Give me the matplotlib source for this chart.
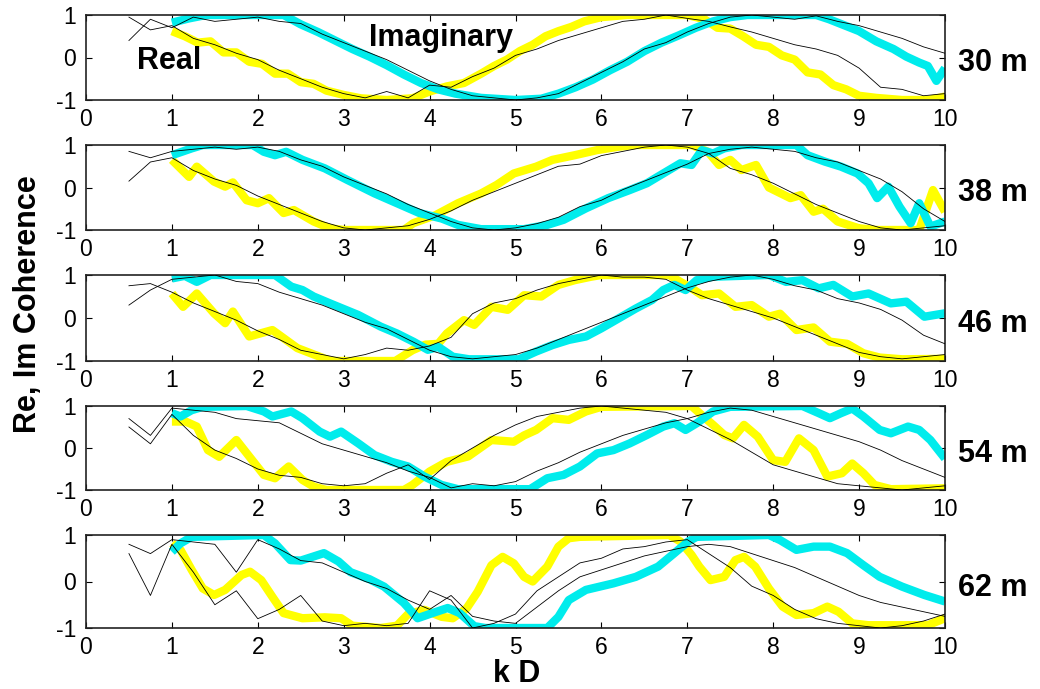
import numpy as np
import matplotlib
matplotlib.use('Agg')
import matplotlib.pyplot as plt

plt.rcParams['font.family'] = ['Liberation Sans', 'DejaVu Sans']
plt.rcParams['axes.unicode_minus'] = False

depths = ['30 m', '38 m', '46 m', '54 m', '62 m']

# thick model curves (real = yellow, imaginary = cyan)
re30_x = [1.0, 1.15, 1.3, 1.45, 1.6, 1.75, 1.9, 2.05, 2.2, 2.35, 2.5, 2.65, 2.8, 3.0, 3.2, 3.5, 3.8, 4.0, 4.2, 4.4,
          4.6, 4.75, 4.9, 5.05, 5.2, 5.35, 5.5, 5.65, 5.8, 6.0, 6.3, 7.0, 7.2, 7.35, 7.5, 7.65, 7.8, 7.95, 8.1, 8.25,
          8.4, 8.55, 8.7, 8.85, 9.0, 9.2, 9.5, 9.8, 10.0]
re30_y = [0.62, 0.5, 0.35, 0.38, 0.12, 0.12, -0.1, -0.15, -0.38, -0.38, -0.58, -0.62, -0.78, -0.88, -0.96, -1.0, -0.96, -0.8, -0.68, -0.6,
          -0.38, -0.2, -0.05, 0.15, 0.3, 0.5, 0.62, 0.72, 0.85, 0.95, 1.0, 1.0, 0.9, 0.7, 0.68, 0.5, 0.3, 0.25, 0.05, -0.05,
          -0.35, -0.4, -0.65, -0.75, -0.9, -0.95, -1.0, -1.0, -0.92]
im30_x = [1.0, 1.2, 1.4, 2.3, 2.5, 2.7, 2.9, 3.1, 3.3, 3.5, 3.7, 3.9, 4.1, 4.3, 4.6, 5.0, 5.3, 5.5, 5.7, 5.9,
          6.1, 6.3, 6.5, 6.7, 6.9, 7.1, 7.3, 7.5, 7.7, 8.5, 8.65, 8.8, 9.0, 9.2, 9.4, 9.55, 9.7, 9.8, 9.9, 10.0]
im30_y = [0.82, 0.92, 1.0, 1.0, 0.78, 0.6, 0.4, 0.2, 0.02, -0.18, -0.4, -0.6, -0.75, -0.85, -0.95, -1.0, -0.97, -0.85, -0.7, -0.52,
          -0.3, -0.1, 0.15, 0.35, 0.52, 0.7, 0.85, 0.95, 1.0, 1.0, 0.9, 0.78, 0.62, 0.38, 0.2, 0.02, -0.12, -0.2, -0.55, -0.25]

re38_x = [1.0, 1.2, 1.29, 1.49, 1.62, 1.71, 1.87, 2.0, 2.13, 2.3, 2.42, 2.65, 2.84, 3.0, 3.7, 3.81, 4.07, 4.33, 4.6, 4.78,
          4.98, 5.24, 5.43, 5.69, 5.95, 6.2, 6.4, 7.05, 7.17, 7.24, 7.37, 7.5, 7.63, 7.8, 7.95, 8.2, 8.32, 8.47, 8.58, 8.75,
          9.0, 9.2, 9.7, 9.86, 10.0]
re38_y = [0.65, 0.25, 0.49, 0.14, 0.02, 0.12, -0.3, -0.37, -0.25, -0.6, -0.53, -0.8, -0.96, -1.0, -1.0, -0.84, -0.65, -0.37, -0.14, 0.06,
          0.33, 0.49, 0.65, 0.76, 0.88, 0.96, 1.0, 1.0, 0.9, 0.84, 0.53, 0.65, 0.41, 0.53, 0.0, -0.25, -0.18, -0.57, -0.5, -0.8,
          -0.96, -1.0, -1.0, -0.06, -0.57]
im38_x = [1.0, 1.23, 1.36, 1.94, 2.07, 2.2, 2.33, 2.52, 2.78, 3.04, 3.36, 3.62, 3.88, 4.14, 4.33, 4.6, 5.1, 5.37, 5.56, 5.82,
          6.08, 6.33, 6.53, 6.72, 6.92, 7.05, 7.17, 7.3, 7.43, 7.63, 8.27, 8.4, 8.6, 8.79, 8.98, 9.11, 9.21, 9.34, 9.47, 9.6,
          9.7, 9.83, 10.0]
im38_y = [0.76, 0.92, 1.0, 1.0, 0.84, 0.76, 0.84, 0.65, 0.45, 0.18, -0.14, -0.37, -0.6, -0.73, -0.88, -0.98, -0.98, -0.88, -0.76, -0.49,
          -0.25, -0.06, 0.1, 0.33, 0.57, 0.53, 0.88, 0.8, 0.92, 1.0, 1.0, 0.76, 0.61, 0.49, 0.33, 0.1, -0.25, 0.02, -0.45, -0.84,
          -0.37, -0.92, -0.8]

re46_x = [1.0, 1.13, 1.29, 1.49, 1.62, 1.71, 1.9, 2.17, 2.46, 2.72, 2.85, 3.6, 3.8, 3.95, 4.1, 4.2, 4.4, 4.52, 4.72, 4.91,
          5.1, 5.3, 5.5, 5.69, 5.88, 6.0, 6.79, 6.92, 7.05, 7.17, 7.37, 7.56, 7.75, 7.95, 8.08, 8.27, 8.47, 8.66, 8.86, 9.05,
          9.24, 9.5, 10.0]
re46_y = [0.57, 0.26, 0.57, 0.11, -0.12, 0.15, -0.43, -0.28, -0.7, -0.9, -1.0, -1.0, -0.75, -0.62, -0.6, -0.36, -0.05, -0.16, 0.26, 0.19,
          0.53, 0.5, 0.77, 0.88, 0.96, 1.0, 1.0, 0.84, 0.69, 0.53, 0.57, 0.26, 0.3, 0.03, 0.1, -0.28, -0.22, -0.55, -0.6, -0.82,
          -0.92, -0.96, -0.95]
im46_x = [1.0, 1.15, 1.29, 1.45, 2.2, 2.39, 2.52, 2.65, 2.84, 3.17, 3.43, 3.62, 3.81, 3.98, 4.1, 4.27, 4.46, 5.04, 5.24, 5.43,
          5.62, 5.82, 6.0, 6.2, 6.4, 6.59, 6.72, 6.85, 6.98, 7.11, 7.3, 7.95, 8.15, 8.34, 8.53, 8.7, 8.92, 9.11, 9.37, 9.55,
          9.76, 10.0]
im46_y = [0.92, 0.98, 0.84, 1.0, 1.0, 0.73, 0.65, 0.5, 0.34, 0.07, -0.2, -0.36, -0.55, -0.74, -0.67, -0.9, -0.96, -0.96, -0.78, -0.63,
          -0.51, -0.43, -0.24, -0.01, 0.22, 0.42, 0.65, 0.77, 0.65, 0.88, 0.96, 1.0, 0.84, 0.88, 0.69, 0.77, 0.5, 0.57, 0.34, 0.38,
          0.03, 0.11]

re54_x = [1.0, 1.16, 1.29, 1.42, 1.55, 1.75, 1.9, 2.07, 2.2, 2.36, 2.52, 2.65, 2.8, 3.7, 3.8, 4.0, 4.2, 4.45, 4.72, 4.98,
          5.1, 5.24, 5.43, 5.62, 5.82, 6.0, 7.05, 7.17, 7.3, 7.43, 7.53, 7.66, 7.82, 8.0, 8.14, 8.3, 8.47, 8.63, 8.8, 8.92,
          9.05, 9.18, 9.37, 10.0]
re54_y = [0.63, 0.63, 0.51, -0.05, -0.21, 0.19, -0.2, -0.64, -0.72, -0.44, -0.76, -0.92, -1.0, -1.0, -0.88, -0.56, -0.33, -0.2, 0.19, 0.15,
          0.3, 0.43, 0.71, 0.67, 0.87, 0.98, 1.0, 0.78, 0.55, 0.31, 0.23, 0.55, 0.27, -0.29, -0.33, 0.23, -0.05, -0.68, -0.6, -0.37,
          -0.6, -0.88, -0.98, -0.96]
im54_x = [1.0, 1.1, 1.23, 1.36, 1.87, 2.07, 2.17, 2.39, 2.52, 2.72, 2.84, 2.97, 3.17, 3.36, 3.56, 3.75, 3.94, 4.14, 4.33, 5.17,
          5.37, 5.56, 5.75, 5.95, 6.14, 6.33, 6.53, 6.72, 6.85, 6.98, 7.11, 7.3, 7.5, 8.34, 8.53, 8.66, 8.79, 8.92, 9.05, 9.24,
          9.37, 9.57, 9.7, 9.83, 10.0]
im54_y = [0.83, 0.75, 0.9, 0.98, 1.0, 0.87, 0.75, 0.87, 0.71, 0.39, 0.27, 0.39, 0.11, -0.17, -0.33, -0.44, -0.68, -0.88, -0.98, -0.98,
          -0.72, -0.64, -0.44, -0.13, -0.05, 0.11, 0.31, 0.51, 0.59, 0.43, 0.59, 0.87, 0.98, 1.0, 0.83, 0.71, 0.83, 0.94, 0.75, 0.43,
          0.35, 0.51, 0.43, 0.19, -0.25]

re62_x = [1.0, 1.1, 1.23, 1.36, 1.49, 1.62, 1.81, 1.91, 2.04, 2.17, 2.3, 2.52, 2.78, 2.97, 3.1, 3.43, 3.62, 3.75, 3.94, 4.14,
          4.27, 4.43, 4.56, 4.72, 4.85, 4.98, 5.1, 5.2, 5.37, 5.5, 5.62, 5.75, 6.79, 6.92, 7.05, 7.14, 7.27, 7.43, 7.56, 7.66,
          7.79, 7.95, 8.11, 8.27, 8.47, 8.63, 8.76, 8.92, 9.11, 9.8, 10.0]
re62_y = [0.82, 0.68, 0.25, -0.15, -0.29, -0.18, 0.14, 0.21, 0.03, -0.33, -0.68, -0.79, -0.77, -0.79, -0.95, -1.0, -0.95, -0.7, -0.61, -0.76,
          -0.79, -0.58, -0.22, 0.35, 0.53, 0.39, 0.1, 0.0, 0.32, 0.75, 0.93, 0.96, 1.0, 0.86, 0.57, 0.32, 0.03, 0.1, 0.46, 0.53,
          0.32, -0.15, -0.54, -0.72, -0.68, -0.54, -0.65, -0.9, -0.94, -0.94, -0.79]
im62_x = [1.0, 1.1, 1.23, 2.07, 2.2, 2.38, 2.5, 2.77, 2.94, 3.08, 3.3, 3.47, 3.7, 3.86, 4.0, 4.21, 4.35, 4.52, 4.65, 5.37,
          5.5, 5.62, 5.82, 6.14, 6.4, 6.66, 6.85, 7.01, 7.11, 7.95, 8.08, 8.27, 8.47, 8.66, 8.86, 9.05, 9.24, 9.5, 9.76, 10.0]
im62_y = [0.64, 0.82, 0.96, 1.0, 0.82, 0.46, 0.45, 0.61, 0.43, 0.2, 0.05, -0.11, -0.46, -0.79, -0.7, -0.57, -0.68, -0.96, -1.0, -1.0,
          -0.76, -0.4, -0.18, -0.04, 0.1, 0.32, 0.61, 0.86, 0.96, 1.0, 0.89, 0.68, 0.75, 0.75, 0.61, 0.35, 0.1, -0.11, -0.29, -0.43]

# thin measured curves, sampled every 0.25 from kD = 0.5 to 10
bx = np.arange(0.5, 10.01, 0.25)
blk30_a = [0.95, 0.65, 0.75, 0.45, 0.3, 0.1, -0.05, -0.3, -0.5, -0.7, -0.85, -0.95, -0.8, -0.95, -0.65, -0.7, -0.45, -0.25,
           0.05, 0.2, 0.4, 0.55, 0.7, 0.85, 0.9, 1.0, 0.92, 0.85, 0.72, 0.6, 0.45, 0.3, 0.2, 0.05, -0.25, -0.7, -0.75, -0.9, -0.85]
blk30_b = [0.4, 0.9, 0.7, 0.95, 0.85, 0.9, 0.95, 0.85, 0.8, 0.55, 0.35, 0.15, -0.05, -0.3, -0.55, -0.75, -0.9, -0.95,
           -1.0, -0.95, -0.85, -0.6, -0.35, -0.1, 0.2, 0.35, 0.6, 0.8, 0.95, 1.0, 0.95, 0.9, 0.98, 0.85, 0.75, 0.6, 0.45, 0.25, 0.1]
blk38_a = [0.15, 0.6, 0.7, 0.4, 0.2, 0.05, -0.2, -0.4, -0.6, -0.8, -0.95, -1.0, -0.95, -0.9, -0.75, -0.55, -0.3, -0.1,
           0.1, 0.3, 0.5, 0.55, 0.75, 0.85, 0.95, 1.0, 0.95, 0.8, 0.45, 0.3, 0.1, -0.15, -0.4, -0.6, -0.8, -0.95, -1.0, -0.95, -0.9]
blk38_b = [0.85, 0.7, 0.85, 0.9, 0.95, 0.9, 0.95, 0.85, 0.65, 0.5, 0.25, 0.05, -0.15, -0.4, -0.6, -0.8, -0.95, -1.0,
           -0.95, -0.85, -0.7, -0.45, -0.3, -0.05, 0.15, 0.35, 0.55, 0.8, 0.9, 0.95, 0.9, 0.85, 0.7, 0.6, 0.4, 0.2, -0.1, -0.5, -0.8]
blk46_a = [0.75, 0.8, 0.6, 0.35, 0.15, -0.05, -0.3, -0.5, -0.75, -0.85, -0.95, -0.85, -0.7, -0.75, -0.65, -0.45, 0.1, 0.35,
           0.45, 0.65, 0.8, 0.9, 1.0, 0.95, 0.95, 0.9, 0.65, 0.45, 0.3, 0.15, 0.0, -0.2, -0.4, -0.6, -0.8, -0.9, -0.95, -0.9, -0.85]
blk46_b = [0.3, 0.65, 0.9, 0.95, 1.0, 0.85, 0.8, 0.6, 0.45, 0.3, 0.1, -0.1, -0.25, -0.5, -0.75, -0.9, -0.95, -0.9,
           -0.85, -0.7, -0.5, -0.3, -0.1, 0.1, 0.3, 0.5, 0.7, 0.85, 0.95, 1.0, 0.9, 0.75, 0.65, 0.45, 0.35, 0.2, -0.05, -0.4, -0.6]
blk54_a = [0.5, 0.1, 0.8, 0.3, -0.05, -0.25, -0.5, -0.65, -0.7, -0.85, -0.9, -0.85, -0.6, -0.4, -0.75, -0.3, 0.0, 0.3,
           0.55, 0.75, 0.85, 0.95, 1.0, 0.95, 0.9, 0.85, 0.7, 0.45, 0.2, -0.1, -0.4, -0.55, -0.7, -0.85, -0.9, -0.95, -1.0, -0.95, -0.9]
blk54_b = [0.7, 0.3, 0.95, 0.9, 0.85, 0.7, 0.65, 0.6, 0.35, 0.1, -0.05, -0.2, -0.35, -0.55, -0.7, -0.95, -0.85, -0.9,
           -0.8, -0.55, -0.35, -0.1, 0.1, 0.3, 0.45, 0.6, 0.7, 0.85, 0.95, 0.9, 0.75, 0.6, 0.45, 0.3, 0.15, -0.05, -0.3, -0.5, -0.7]
blk62_a = [0.6, -0.3, 0.8, 0.2, -0.5, -0.2, -0.8, -0.6, -0.3, -0.85, -0.95, -0.9, -0.95, -0.9, -0.2, -0.4, -1.0, -0.9,
           -0.7, -0.2, 0.1, 0.4, 0.5, 0.7, 0.75, 0.85, 0.9, 0.6, 0.3, -0.1, -0.3, -0.6, -0.8, -0.9, -0.95, -1.0, -0.95, -0.85, -0.7]
blk62_b = [0.8, 0.6, 0.9, 0.85, 0.8, 0.2, 0.9, 0.7, 0.45, 0.4, 0.2, 0.0, -0.15, -0.4, -0.6, -0.3, -0.75, -0.85,
           -0.9, -0.55, -0.2, 0.1, 0.25, 0.4, 0.55, 0.65, 0.75, 0.8, 0.75, 0.6, 0.45, 0.3, 0.1, -0.1, -0.3, -0.45, -0.55, -0.65, -0.75]

panels = [
    (re30_x, re30_y, im30_x, im30_y, blk30_a, blk30_b),
    (re38_x, re38_y, im38_x, im38_y, blk38_a, blk38_b),
    (re46_x, re46_y, im46_x, im46_y, blk46_a, blk46_b),
    (re54_x, re54_y, im54_x, im54_y, blk54_a, blk54_b),
    (re62_x, re62_y, im62_x, im62_y, blk62_a, blk62_b),
]

W, H = 1040, 689
fig = plt.figure(figsize=(W / 100, H / 100), dpi=100)

# pixel top/bottom of each panel
rows = [(15, 100), (145, 230), (275, 361), (406, 490), (535, 628)]
left, right = 86, 945

for i, (rx, ry, ix, iy, ba, bb) in enumerate(panels):
    top, bot = rows[i]
    ax = fig.add_axes([left / W, 1 - bot / H, (right - left) / W, (bot - top) / H])
    ax.plot(rx, ry, color='#FFFF00', lw=6.0, solid_capstyle='butt', zorder=2)
    ax.plot(ix, iy, color='#00ECEC', lw=6.0, solid_capstyle='butt', zorder=2)
    ax.plot(bx, ba, color='black', lw=0.6, zorder=3)
    ax.plot(bx, bb, color='black', lw=0.6, zorder=3)
    ax.set_xlim(0, 10)
    ax.set_ylim(-1, 1)
    ax.set_xticks(range(11))
    ax.set_yticks([-1, 0, 1])
    ax.tick_params(direction='in', length=4, width=0.8, top=True, right=True,
                   labelsize=16.5, colors='black')
    ax.tick_params(axis='x', pad=6)
    ax.tick_params(axis='y', pad=7)
    for s in ax.spines.values():
        s.set_linewidth(1.2)
        s.set_color('#222222')
    ax.text(1.015, 0.43, depths[i], transform=ax.transAxes, fontsize=22,
            fontweight='bold', ha='left', va='center')
    if i == 0:
        ax.text(0.59, -0.08, 'Real', fontsize=22, fontweight='bold', ha='left', va='center', zorder=4)
        ax.text(3.3, 0.45, 'Imaginary', fontsize=22, fontweight='bold', ha='left', va='center', zorder=4)

fig.text(0.027, 0.559, 'Re, Im Coherence', rotation=90, fontsize=22, fontweight='bold',
         ha='center', va='center')
fig.text(0.497, 0.022, 'k D', fontsize=22, fontweight='bold', ha='center', va='center')

fig.savefig('out.png', dpi=100, facecolor='white')
